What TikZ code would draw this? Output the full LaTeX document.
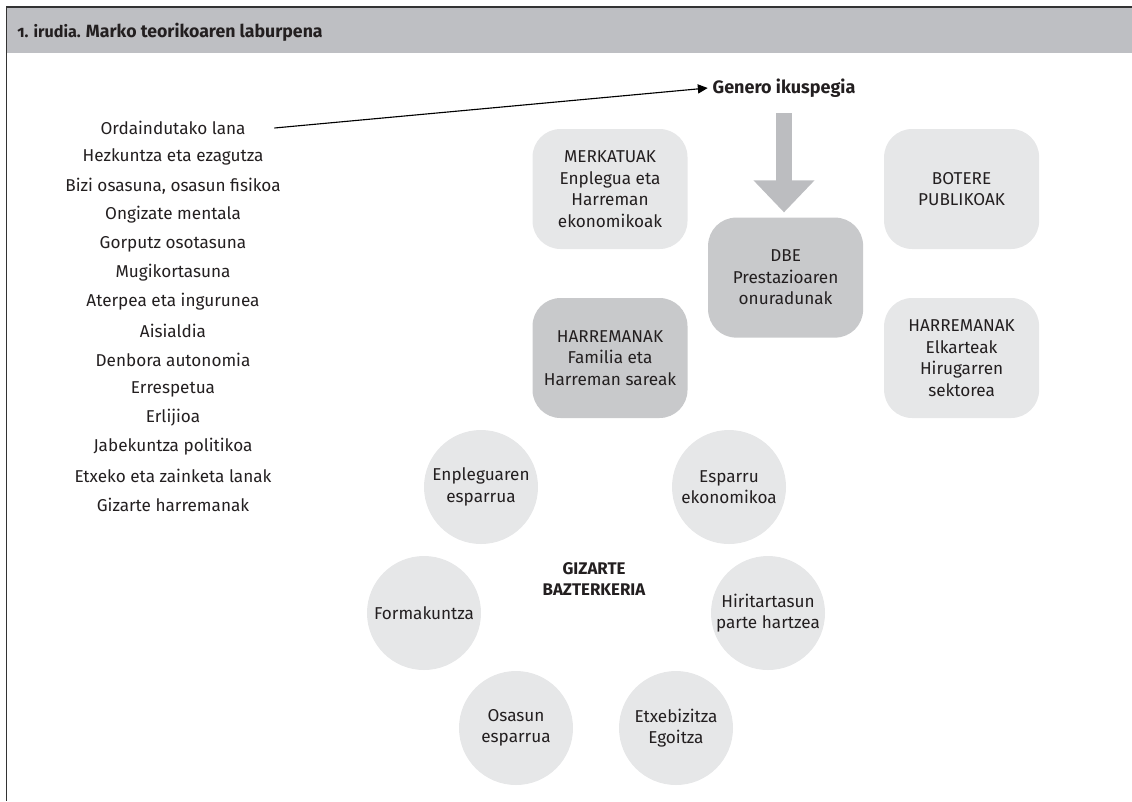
\documentclass[tikz,border=0pt]{standalone}
\usepackage{fontspec}
\setmainfont{Fira Sans}
\usetikzlibrary{arrows.meta,positioning,calc}
\definecolor{bandgray}{HTML}{BEBFC3}
\definecolor{boxlight}{HTML}{E6E7E8}
\definecolor{boxdark}{HTML}{C8C9CB}
\definecolor{arrowgray}{HTML}{BCBDC0}
\definecolor{framegray}{HTML}{333333}
\definecolor{txt}{HTML}{231F20}

\begin{document}
\begin{tikzpicture}[font=\fontsize{12.2}{15.3}\selectfont, text=txt,
  box/.style={rounded corners=0.7cm, fill=boxlight, minimum width=3.875cm, minimum height=3cm, align=center},
  boxdk/.style={box, fill=boxdark},
  eremu/.style={circle, fill=boxlight, minimum size=2.85cm, inner sep=0pt, align=center}]
\useasboundingbox (0,0) rectangle (28.3,-20.025);
% goiburua
\fill[bandgray] (0.1625,-0.175) rectangle (28.3,-1.3175);
\draw[framegray, line width=1.2pt] (28.3,-0.175) -- (0.1625,-0.175) -- (0.1625,-20.025);
\node[anchor=base west, inner sep=0pt] (title) at (0.425,-0.93) {\bfseries\addfontfeatures{Numbers=OldStyle}\fontsize{11.5}{13}\selectfont 1. irudia. \fontsize{12.6}{15}\selectfont Marko teorikoaren laburpena};
% zerrenda
\node (ord) at (4.325,-3.2) {Ordaindutako lana};
\node (hez) at (4.325,-3.925) {Hezkuntza eta ezagutza};
\node (biz) at (4.325,-4.65) {Bizi osasuna, osasun fisikoa};
\node (ong) at (4.325,-5.375) {Ongizate mentala};
\node (gor) at (4.325,-6.1) {Gorputz osotasuna};
\node (mug) at (4.325,-6.825) {Mugikortasuna};
\node (ate) at (4.325,-7.55) {Aterpea eta ingurunea};
\node (ais) at (4.325,-8.275) {Aisialdia};
\node (den) at (4.325,-9.0) {Denbora autonomia};
\node (err) at (4.325,-9.725) {Errespetua};
\node (erl) at (4.325,-10.45) {Erlijioa};
\node (jab) at (4.325,-11.175) {Jabekuntza politikoa};
\node (etx) at (4.325,-11.9) {Etxeko eta zainketa lanak};
\node (giz) at (4.325,-12.625) {Gizarte harremanak};
% kutxak
\node[box] (merk) at (15.25,-4.725) {MERKATUAK\\Enplegua eta\\Harreman\\ekonomikoak};
\node[box] (bot) at (24.04,-4.725) {BOTERE\\PUBLIKOAK};
\node[boxdk] (dbe) at (19.64,-6.94) {DBE\\Prestazioaren\\onuradunak};
\node[boxdk] (fam) at (15.25,-8.95) {HARREMANAK\\Familia eta\\Harreman sareak};
\node[box] (elk) at (24.04,-8.95) {HARREMANAK\\Elkarteak\\Hirugarren\\sektorea};
\node[font=\fontsize{12.8}{15}\selectfont\bfseries] (gen) at (19.6,-2.2) {Genero ikuspegia};
\draw[-{Triangle[length=7pt,width=6.5pt]}, line width=0.8pt] ([xshift=0.6cm]ord.east) -- (gen.west);
\draw[arrowgray, line width=12pt, -{Triangle[length=22.8pt,width=42pt]}, shorten <=7.8pt, shorten >=3.5pt] (gen.south) -- (gen.south |- dbe.north);
% zirkuluak
\node[eremu] (enp) at (12.025,-12.175) {Enpleguaren\\esparrua};
\node[eremu] (eko) at (18.225,-12.175) {Esparru\\ekonomikoa};
\node[eremu] (for) at (10.6,-15.325) {Formakuntza};
\node[eremu] (hir) at (19.2,-15.325) {Hiritartasun\\parte hartzea};
\node[eremu] (osa) at (12.9,-18.2) {Osasun\\esparrua};
\node[eremu] (egb) at (16.9,-18.2) {Etxebizitza\\Egoitza};
\node[font=\fontsize{12}{15.3}\selectfont\bfseries, align=center] (baz) at (14.85,-14.475) {GIZARTE\\BAZTERKERIA};
\end{tikzpicture}
\end{document}
